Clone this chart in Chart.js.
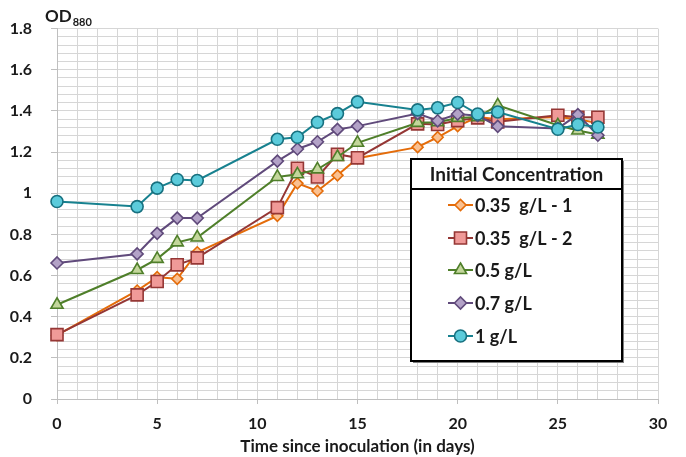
<!DOCTYPE html>
<html>
<head>
<meta charset="utf-8">
<script src="https://cdn.jsdelivr.net/npm/chart.js@4/dist/chart.umd.min.js"></script>
<style>
  html, body { margin: 0; padding: 0; background: #fff; }
  canvas { display: block; }
</style>
</head>
<body>
<canvas id="odChart" width="686" height="457"></canvas>
<script>
// sampling days (x axis) and OD880 readings per initial concentration
const days = [0, 4, 5, 6, 7, 11, 12, 13, 14, 15, 18, 19, 20, 21, 22, 25, 26, 27];
const conc035a = [0.31, 0.527, 0.592, 0.584, 0.713, 0.89, 1.048, 1.011, 1.087, 1.17, 1.224, 1.272, 1.326, 1.37, 1.36, 1.37, 1.36, 1.34];
const conc035b = [0.313, 0.506, 0.571, 0.652, 0.686, 0.93, 1.121, 1.079, 1.189, 1.172, 1.337, 1.334, 1.353, 1.366, 1.347, 1.379, 1.369, 1.369];
const conc05 = [0.458, 0.627, 0.681, 0.761, 0.785, 1.079, 1.092, 1.116, 1.176, 1.245, 1.342, 1.345, 1.366, 1.37, 1.427, 1.33, 1.305, 1.285];
const conc07 = [0.661, 0.705, 0.805, 0.879, 0.879, 1.156, 1.215, 1.25, 1.31, 1.326, 1.387, 1.352, 1.385, 1.377, 1.325, 1.315, 1.382, 1.282];
const conc1 = [0.96, 0.935, 1.025, 1.067, 1.062, 1.262, 1.272, 1.345, 1.387, 1.444, 1.405, 1.415, 1.441, 1.385, 1.395, 1.311, 1.334, 1.322];

const seriesLabels = ['0.35  g/L - 1', '0.35  g/L - 2', '0.5 g/L', '0.7 g/L', '1 g/L'];
const seriesValues = [conc035a, conc035b, conc05, conc07, conc1];

const xTicks = { min: 0, max: 30, major: 5 };
const yTicks = { min: 0, max: 1.8, step: 0.04, major: 0.2 };

const legendTitle = 'Initial Concentration';
const xTitle = 'Time since inoculation (in days)';

const FONT = 'Lato, "Open Sans", "DejaVu Sans", sans-serif';

// line / marker styles for each series, same order as seriesLabels
const styles = [
  { line: '#E46C0A', fill: '#FAC090', border: '#E46C0A', shape: 'rectRot', r: 5.5 },
  { line: '#953735', fill: '#F09A98', border: '#953735', shape: 'rect', r: 8.5 },
  { line: '#4F7F2A', fill: '#C3D69B', border: '#4F7F2A', shape: 'triangle', r: 7 },
  { line: '#604A7B', fill: '#B3A2C7', border: '#604A7B', shape: 'rectRot', r: 6 },
  { line: '#17818F', fill: '#5BCBDB', border: '#17707F', shape: 'circle', r: 6 }
];

function buildDatasets() {
  return seriesLabels.map((label, i) => ({
    label: label,
    data: days.map((d, j) => ({ x: d, y: seriesValues[i][j] })),
    borderColor: styles[i].line,
    borderWidth: 2,
    backgroundColor: styles[i].fill,
    pointStyle: styles[i].shape,
    pointRadius: styles[i].r,
    pointBackgroundColor: styles[i].fill,
    pointBorderColor: styles[i].border,
    pointBorderWidth: 1.6,
    tension: 0,
    clip: false,
    order: seriesLabels.length - i // later series on top, like the original
  }));
}

function isMajor(value, step) {
  const k = value / step;
  return Math.abs(k - Math.round(k)) < 1e-6;
}

// legend box and the OD880 axis caption are drawn on the canvas
const decorPlugin = {
  id: 'decor',
  afterDraw(chart) {
    const ctx = chart.ctx;
    ctx.save();

    // OD880 caption above the y axis
    ctx.fillStyle = '#1a1a1a';
    ctx.textBaseline = 'alphabetic';
    ctx.textAlign = 'left';
    ctx.font = 'bold 17px ' + FONT;
    ctx.fillText('OD', 45, 22);
    const odW = ctx.measureText('OD').width;
    ctx.font = 'bold 11px ' + FONT;
    ctx.fillText('880', 45 + odW + 1, 26);

    // legend box
    const box = { x: 411, y: 159, w: 211, h: 202 };
    ctx.fillStyle = '#7f7f7f';
    ctx.fillRect(box.x + 2, box.y + 2, box.w, box.h);
    ctx.fillStyle = '#fff';
    ctx.fillRect(box.x, box.y, box.w, box.h);
    ctx.strokeStyle = '#000';
    ctx.lineWidth = 2;
    ctx.strokeRect(box.x, box.y, box.w, box.h);
    ctx.beginPath();
    ctx.moveTo(box.x, 189);
    ctx.lineTo(box.x + box.w, 189);
    ctx.stroke();

    ctx.fillStyle = '#1a1a1a';
    ctx.font = 'bold 19px ' + FONT;
    ctx.textAlign = 'center';
    ctx.textBaseline = 'middle';
    ctx.fillText(legendTitle, box.x + box.w / 2, 175);

    const rowY = [205, 238, 270, 303, 336];
    seriesLabels.forEach((label, i) => {
      const y = rowY[i];
      const st = styles[i];
      ctx.strokeStyle = st.line;
      ctx.lineWidth = 2;
      ctx.beginPath();
      ctx.moveTo(448, y);
      ctx.lineTo(473, y);
      ctx.stroke();
      ctx.fillStyle = st.fill;
      ctx.strokeStyle = st.border;
      ctx.lineWidth = 1.6;
      Chart.helpers.drawPoint(ctx, {
        pointStyle: st.shape,
        radius: st.r,
        rotation: 0,
        borderWidth: 1.6
      }, 460.5, y);
      ctx.fillStyle = '#1a1a1a';
      ctx.font = 'bold 18px ' + FONT;
      ctx.textAlign = 'left';
      ctx.fillText(label, 475, y + 1);
    });

    ctx.restore();
  }
};

const chart = new Chart(document.getElementById('odChart').getContext('2d'), {
  type: 'line',
  data: { datasets: buildDatasets() },
  plugins: [decorPlugin],
  options: {
    responsive: false,
    animation: false,
    devicePixelRatio: 1,
    layout: { padding: { top: 27, right: 28, left: 0, bottom: 0 } },
    plugins: {
      legend: { display: false },
      tooltip: { enabled: false }
    },
    scales: {
      x: {
        type: 'linear',
        min: xTicks.min,
        max: xTicks.max,
        afterFit(scale) { scale.height = 58; },
        ticks: {
          stepSize: 1,
          autoSkip: false,
          maxRotation: 0,
          padding: 10,
          color: '#1a1a1a',
          font: { family: FONT, size: 16, weight: 'bold' },
          callback: v => (isMajor(v, xTicks.major) ? String(v) : '')
        },
        grid: {
          color: '#d6d6d6',
          lineWidth: 1,
          tickLength: 5,
          tickColor: c => (c.tick && isMajor(c.tick.value, xTicks.major) ? '#bfbfbf' : 'rgba(0,0,0,0)')
        },
        border: { color: '#bfbfbf', width: 1 },
        title: {
          display: true,
          text: xTitle,
          color: '#1a1a1a',
          padding: { top: 0, bottom: 0 },
          font: { family: FONT, size: 17, weight: 'bold' }
        }
      },
      y: {
        type: 'linear',
        min: yTicks.min,
        max: yTicks.max,
        afterFit(scale) { scale.width = 57; },
        ticks: {
          stepSize: yTicks.step,
          autoSkip: false,
          padding: 19,
          color: '#1a1a1a',
          font: { family: FONT, size: 16, weight: 'bold' },
          callback: v => (isMajor(v, yTicks.major) ? String(Math.round(v * 10) / 10) : '')
        },
        grid: {
          color: '#d6d6d6',
          lineWidth: 1,
          tickLength: 6,
          tickColor: c => (c.tick && isMajor(c.tick.value, yTicks.major) ? '#bfbfbf' : 'rgba(0,0,0,0)')
        },
        border: { color: '#bfbfbf', width: 1 }
      }
    }
  }
});
</script>
</body>
</html>
